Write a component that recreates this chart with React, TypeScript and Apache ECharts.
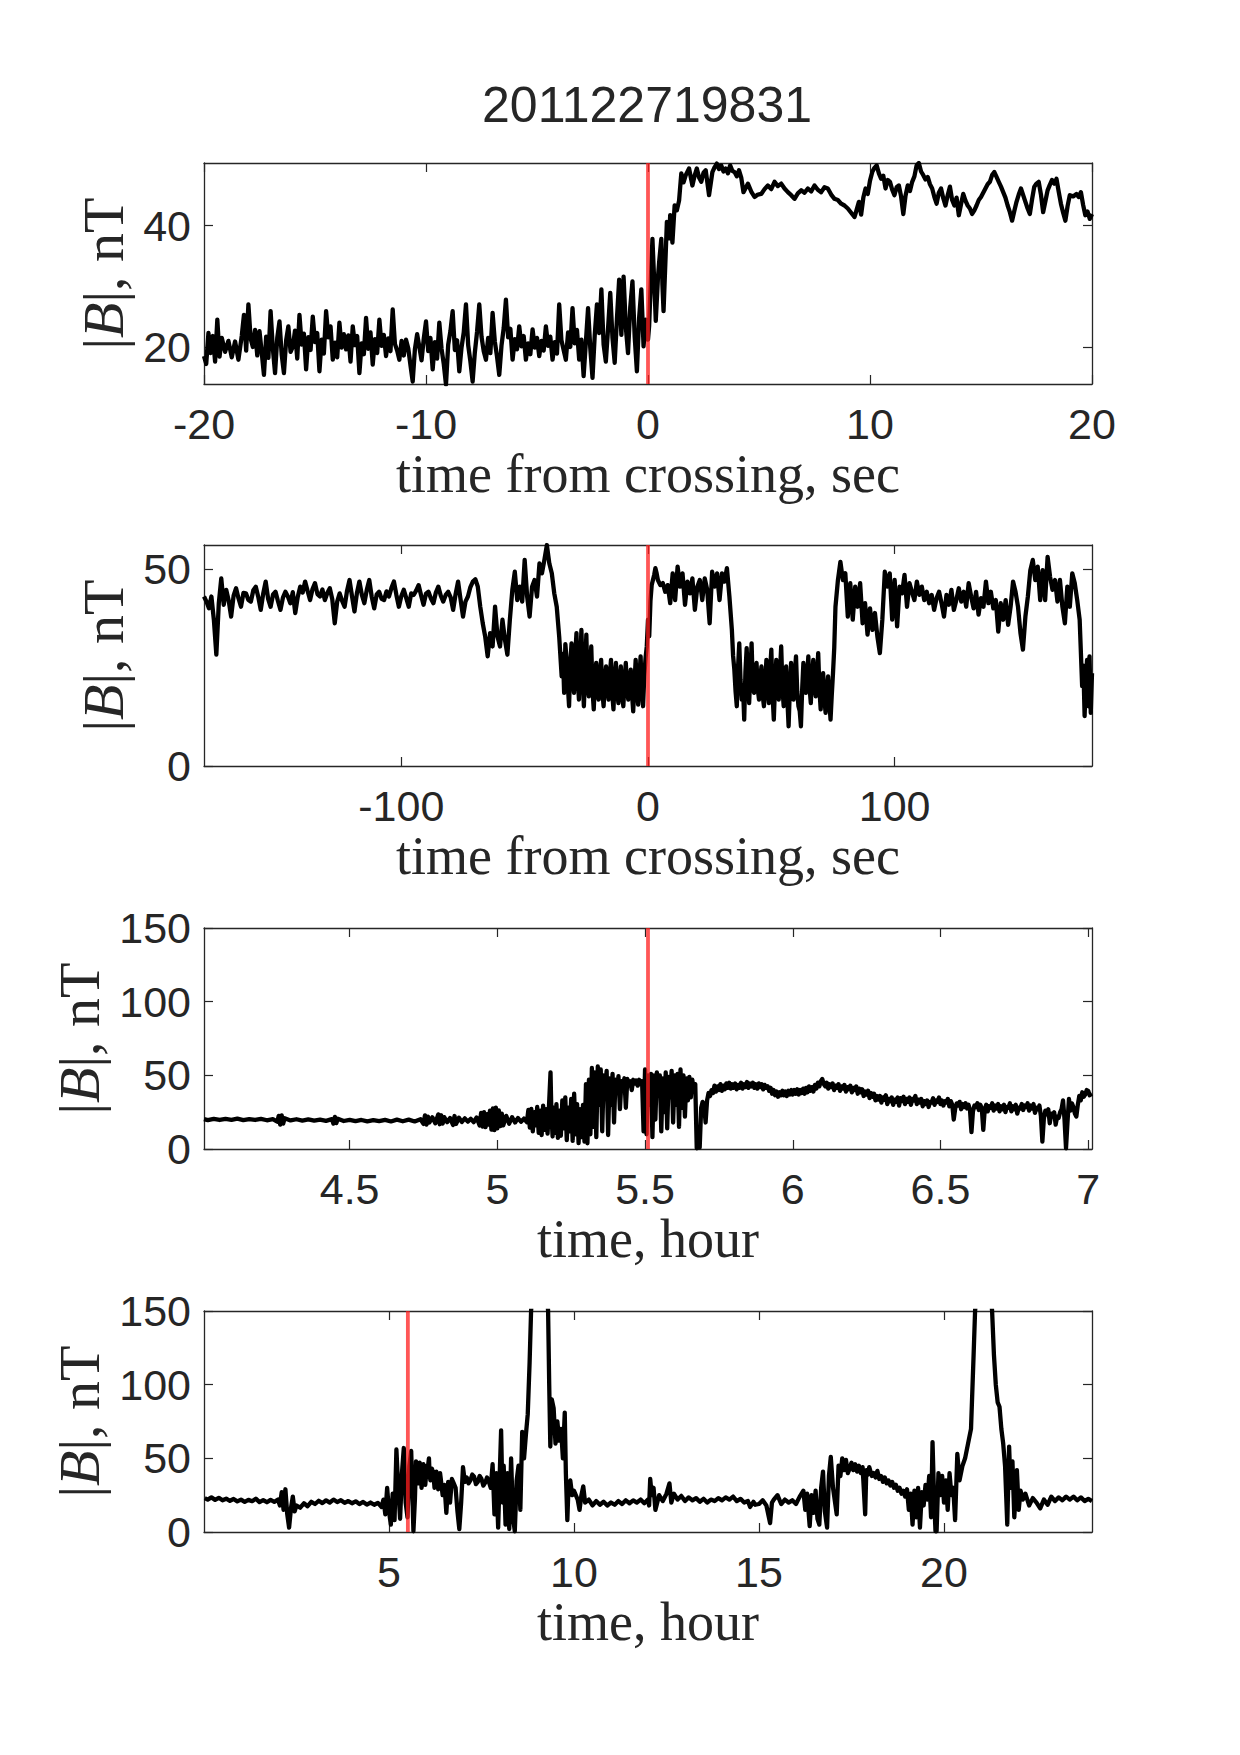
import React, { useEffect, useRef } from "react";
import * as echarts from "echarts";

// ---------- data (time, |B|) ----------
const TITLE = "201122719831";
const CROSSING_SEC = 0;
const CROSSING_HOUR = 5.51;

// panel 1: -20..20 s
const p1Data: number[][] = [
  [-20.0,18.5],[-19.9,17.2],[-19.8,22.3],[-19.7,19.0],[-19.6,21.8],[-19.5,17.6],[-19.4,24.5],[-19.3,18.4],[-19.2,21.5],[-19.05,19.2],
  [-18.9,21.0],[-18.75,18.3],[-18.6,20.9],[-18.45,17.9],[-18.3,21.8],[-18.2,25.3],[-18.1,19.4],[-18.0,27.0],[-17.9,21.4],[-17.8,20.0],
  [-17.7,22.8],[-17.6,18.6],[-17.5,22.6],[-17.4,19.1],[-17.3,15.4],[-17.2,21.7],[-17.1,18.2],[-17.0,25.9],[-16.9,19.8],[-16.8,15.7],
  [-16.7,21.5],[-16.6,24.2],[-16.5,18.7],[-16.4,15.7],[-16.3,21.1],[-16.2,23.4],[-16.1,19.2],[-16.0,20.0],[-15.9,22.7],[-15.8,18.1],
  [-15.7,25.3],[-15.6,20.4],[-15.5,22.2],[-15.4,16.3],[-15.3,21.6],[-15.2,19.5],[-15.1,25.0],[-15.0,20.8],[-14.9,22.3],[-14.8,16.0],
  [-14.7,21.2],[-14.6,18.9],[-14.5,25.9],[-14.4,21.6],[-14.3,23.4],[-14.2,17.9],[-14.1,20.7],[-14.0,18.3],[-13.9,24.0],[-13.8,19.9],
  [-13.7,22.1],[-13.6,19.6],[-13.5,21.9],[-13.4,17.6],[-13.3,23.4],[-13.2,20.3],[-13.1,21.8],[-13.0,15.7],[-12.9,20.6],[-12.8,18.8],
  [-12.7,24.8],[-12.6,19.7],[-12.5,22.4],[-12.4,17.1],[-12.3,21.3],[-12.2,19.0],[-12.1,24.5],[-12.0,20.2],[-11.9,22.0],[-11.8,18.5],
  [-11.7,21.4],[-11.6,19.3],[-11.5,26.2],[-11.4,20.5],[-11.3,19.4],[-11.2,17.9],[-11.1,21.0],[-11.0,18.6],[-10.9,21.2],[-10.8,19.8],
  [-10.7,17.0],[-10.6,14.3],[-10.5,19.6],[-10.4,22.1],[-10.3,20.0],[-10.2,17.8],[-10.1,21.4],[-10.0,24.2],[-9.9,19.3],[-9.8,21.5],
  [-9.7,16.3],[-9.6,20.8],[-9.5,18.1],[-9.4,24.0],[-9.3,19.7],[-9.2,17.2],[-9.1,13.8],[-9.0,20.4],[-8.9,22.6],[-8.8,25.9],
  [-8.7,19.5],[-8.6,21.1],[-8.5,16.0],[-8.4,19.9],[-8.3,22.4],[-8.2,27.0],[-8.1,20.3],[-8.0,17.6],[-7.9,14.3],[-7.8,19.1],
  [-7.7,22.5],[-7.6,27.0],[-7.5,21.7],[-7.4,19.3],[-7.3,17.9],[-7.2,21.5],[-7.1,19.0],[-7.0,25.6],[-6.9,20.9],[-6.8,18.4],
  [-6.7,15.4],[-6.6,20.2],[-6.5,23.1],[-6.4,27.8],[-6.3,21.6],[-6.2,23.0],[-6.1,17.9],[-6.0,21.3],[-5.9,19.6],[-5.8,23.4],
  [-5.7,20.1],[-5.6,21.8],[-5.5,17.9],[-5.4,20.6],[-5.3,18.8],[-5.2,22.9],[-5.1,19.9],[-5.0,21.5],[-4.9,18.5],[-4.8,21.0],
  [-4.7,19.4],[-4.6,23.4],[-4.5,20.2],[-4.4,21.7],[-4.3,17.9],[-4.2,20.8],[-4.1,18.9],[-4.0,27.0],[-3.9,21.1],[-3.8,19.5],
  [-3.7,17.9],[-3.6,22.4],[-3.5,20.0],[-3.4,26.4],[-3.3,20.6],[-3.2,22.8],[-3.1,17.9],[-3.0,21.2],[-2.9,15.2],[-2.8,20.7],
  [-2.7,26.4],[-2.6,19.8],[-2.5,14.9],[-2.4,21.9],[-2.3,27.0],[-2.2,22.3],[-2.1,29.5],[-2.0,20.4],[-1.9,17.6],[-1.8,23.0],
  [-1.7,28.9],[-1.6,21.5],[-1.5,17.4],[-1.4,24.6],[-1.3,31.1],[-1.2,22.0],[-1.1,31.6],[-1.0,23.3],[-0.9,19.0],[-0.8,26.5],
  [-0.7,30.8],[-0.6,21.7],[-0.5,16.0],[-0.4,24.8],[-0.3,29.5],[-0.2,20.1],[-0.1,24.5],[0.0,21.2],
  [0.05,23.4],[0.15,33.1],[0.2,37.8],[0.3,29.0],[0.35,24.3],[0.45,31.5],[0.5,33.9],[0.6,37.8],[0.65,30.2],[0.7,25.9],
  [0.8,35.6],[0.85,40.6],[0.95,37.9],[1.0,41.7],[1.1,37.2],[1.2,43.3],[1.3,42.5],[1.4,44.1],[1.5,48.6],[1.6,47.1],
  [1.7,48.3],[1.85,49.4],[2.0,46.6],[2.1,48.2],[2.2,49.4],[2.3,47.9],[2.4,47.2],[2.5,48.7],[2.6,49.1],[2.75,45.0],
  [2.9,48.8],[3.0,49.6],[3.1,50.2],[3.2,49.3],[3.3,49.9],[3.4,48.9],[3.5,49.4],[3.6,48.6],[3.7,49.9],[3.8,49.0],
  [3.9,48.8],[4.0,48.1],[4.1,49.1],[4.2,47.9],[4.3,45.5],[4.4,46.2],[4.5,46.9],[4.65,45.6],[4.8,44.7],[4.95,45.1],
  [5.1,45.2],[5.25,46.0],[5.4,46.6],[5.55,46.0],[5.7,47.2],[5.85,46.5],[6.0,46.9],[6.15,46.1],[6.3,45.5],[6.45,45.0],
  [6.6,44.4],[6.75,45.3],[6.9,45.8],[7.05,45.4],[7.2,46.1],[7.35,45.6],[7.5,46.6],[7.65,45.9],[7.8,45.5],[7.95,46.3],
  [8.1,46.1],[8.25,45.1],[8.4,44.4],[8.55,44.2],[8.7,43.6],[8.85,43.3],[9.0,42.8],[9.15,42.1],[9.3,41.4],[9.4,42.6],
  [9.5,43.9],[9.6,41.8],[9.7,44.6],[9.8,46.1],[9.9,45.2],[10.0,47.4],[10.1,48.8],[10.2,49.5],[10.3,49.9],[10.4,48.6],
  [10.5,47.7],[10.6,48.2],[10.7,46.1],[10.8,47.5],[10.9,47.2],[11.0,45.9],[11.1,45.0],[11.2,46.3],[11.3,46.6],[11.4,44.8],
  [11.5,41.9],[11.6,44.9],[11.7,46.6],[11.8,45.7],[11.9,47.2],[12.0,48.1],[12.1,49.9],[12.2,50.3],[12.3,48.9],[12.4,48.3],
  [12.5,47.6],[12.6,48.0],[12.7,46.8],[12.8,46.1],[12.9,44.7],[13.0,43.6],[13.1,45.4],[13.2,46.1],[13.3,44.5],[13.4,43.3],
  [13.5,45.0],[13.6,46.4],[13.7,44.2],[13.8,43.3],[13.9,44.6],[14.0,41.7],[14.1,43.5],[14.2,45.2],[14.3,44.1],[14.4,43.3],
  [14.5,42.8],[14.6,41.9],[14.7,42.5],[14.8,43.3],[14.9,44.2],[15.0,44.7],[15.1,45.4],[15.2,46.1],[15.3,46.8],[15.4,47.2],
  [15.5,48.3],[15.6,48.8],[15.7,48.0],[15.8,47.2],[15.9,46.4],[16.0,45.5],[16.1,44.6],[16.2,43.3],[16.3,42.2],[16.4,40.8],
  [16.5,42.4],[16.6,43.9],[16.7,45.1],[16.8,46.1],[16.9,45.0],[17.0,43.9],[17.1,42.8],[17.2,41.9],[17.3,44.3],[17.4,46.4],
  [17.5,46.9],[17.6,47.2],[17.7,45.1],[17.8,42.2],[17.9,44.0],[18.0,45.8],[18.1,46.7],[18.2,47.5],[18.3,46.9],[18.4,47.7],
  [18.5,45.6],[18.6,43.6],[18.7,42.1],[18.8,40.8],[18.9,43.2],[19.0,45.0],[19.15,44.8],[19.3,45.2],[19.4,44.7],[19.5,45.5],
  [19.6,43.4],[19.7,41.7],[19.8,42.3],[19.9,41.1],[20.0,41.9]
];

// panel 2: -180..180 s
const p2Data: number[][] = [
  [-180,43.1],[-179,41.8],[-178,40.1],[-177,43.1],[-176,37.2],[-175,28.3],[-174,41.4],[-173,47.7],[-172,41.0],[-171,44.8],
  [-170,42.1],[-169,38.0],[-168,43.3],[-167,45.2],[-166,42.6],[-165,40.5],[-164,44.0],[-163,43.9],[-162,42.2],[-161,41.8],
  [-160,44.7],[-159,45.6],[-158,43.0],[-157,39.7],[-156,43.8],[-155,46.9],[-154,42.5],[-153,40.5],[-152,43.6],[-151,44.3],
  [-150,41.9],[-149,39.7],[-148,42.8],[-147,44.3],[-146,43.1],[-145,41.4],[-144,44.2],[-143,38.9],[-142,43.0],[-141,45.6],
  [-140,44.1],[-139,46.9],[-138,44.5],[-137,42.2],[-136,45.0],[-135,46.5],[-134,43.7],[-133,43.1],[-132,44.9],[-131,42.2],
  [-130,44.0],[-129,45.2],[-128,42.4],[-127,36.3],[-126,41.8],[-125,43.9],[-124,42.0],[-123,40.5],[-122,44.6],[-121,47.3],
  [-120,43.2],[-119,39.3],[-118,44.0],[-117,46.9],[-116,43.5],[-115,41.4],[-114,44.8],[-113,47.3],[-112,43.0],[-111,40.1],
  [-110,43.6],[-109,44.3],[-108,42.5],[-107,42.2],[-106,44.4],[-105,43.1],[-104,45.3],[-103,46.9],[-102,43.5],[-101,40.5],
  [-100,43.2],[-99,44.8],[-98,42.7],[-97,40.5],[-96,43.9],[-95,43.5],[-94,44.6],[-93,46.0],[-92,43.4],[-91,41.0],
  [-90,43.8],[-89,44.3],[-88,42.6],[-87,41.4],[-86,44.1],[-85,45.6],[-84,43.3],[-83,41.8],[-82,43.5],[-81,44.3],
  [-80,42.9],[-79,39.7],[-78,43.7],[-77,46.9],[-76,42.4],[-75,38.0],[-74,41.8],[-73,43.1],[-72,45.5],[-71,46.9],
  [-70,47.5],[-69,45.6],[-68,40.5],[-67,36.3],[-66,32.9],[-65,27.9],[-64,33.8],[-63,30.4],[-62,40.5],[-61,32.9],
  [-60,30.4],[-59,37.2],[-58,32.1],[-57,28.3],[-56,37.2],[-55,44.8],[-54,49.4],[-53,42.2],[-52,45.6],[-51,41.8],
  [-50,52.4],[-49,43.1],[-48,38.0],[-47,45.6],[-46,47.3],[-45,43.1],[-44,51.5],[-43,49.0],[-42,52.4],[-41,56.2],
  [-40,51.5],[-39,49.0],[-38,43.9],[-37,40.5],[-36,32.9],[-35,22.8],[-34.5,28.5],[-34,18.6],[-33.5,31.0],[-33,27.0],
  [-32.5,20.5],[-32,15.2],[-31.5,26.0],[-31,31.2],[-30.5,22.0],[-30,18.6],[-29.5,28.0],[-29,33.8],[-28.5,22.5],[-28,16.9],
  [-27.5,25.5],[-27,34.6],[-26.5,24.0],[-26,15.2],[-25.5,23.5],[-25,33.4],[-24.5,21.0],[-24,17.7],[-23.5,25.0],[-23,30.4],
  [-22.5,19.5],[-22,14.4],[-21.5,22.0],[-21,26.2],[-20.5,18.0],[-20,16.9],[-19.5,24.0],[-19,27.0],[-18.5,19.0],[-18,15.2],
  [-17.5,21.5],[-17,25.3],[-16.5,19.8],[-16,16.9],[-15.5,23.0],[-15,27.0],[-14.5,18.5],[-14,14.4],[-13.5,22.5],[-13,26.2],
  [-12.5,19.0],[-12,16.0],[-11.5,22.0],[-11,25.3],[-10.5,18.0],[-10,15.2],[-9.5,21.5],[-9,26.2],[-8.5,20.0],[-8,16.9],
  [-7.5,22.0],[-7,24.5],[-6.5,18.5],[-6,13.9],[-5.5,21.0],[-5,27.0],[-4.5,19.5],[-4,15.6],[-3.5,22.5],[-3,27.9],
  [-2.5,19.0],[-2,15.2],[-1.5,23.0],[-1,27.4],[-0.5,30.4],[0,37.2],[0.5,33.0],[1,42.0],[1.5,46.0],[2,47.3],
  [2.5,48.6],[3,50.3],[3.5,49.0],[4,47.3],[5,46.0],[6,46.5],[7,44.3],[8,46.0],[9,41.4],[10,49.0],
  [11,42.2],[12,50.7],[13,45.6],[14,49.0],[15,41.0],[16,46.9],[17,43.9],[18,47.7],[19,39.7],[20,45.6],
  [21,47.3],[22,42.2],[23,47.7],[24,44.8],[25,36.3],[26,49.4],[27,45.6],[28,49.0],[29,42.2],[30,49.0],
  [31,46.9],[32,50.3],[33,43.1],[34,34.6],[34.5,28.0],[35,24.5],[35.5,19.0],[36,15.2],[36.5,25.0],[37,31.2],
  [37.5,22.0],[38,16.9],[38.5,20.5],[39,11.8],[39.5,24.0],[40,30.0],[40.5,21.5],[41,16.0],[41.5,23.5],[42,31.2],
  [42.5,20.0],[43,18.6],[43.5,24.0],[44,26.2],[44.5,19.5],[45,16.9],[45.5,22.5],[46,25.3],[46.5,18.0],[47,15.2],
  [47.5,21.0],[48,27.0],[48.5,19.5],[49,16.0],[49.5,24.5],[50,29.6],[50.5,18.0],[51,11.8],[51.5,20.5],[52,27.0],
  [52.5,21.0],[53,16.9],[53.5,24.0],[54,30.4],[54.5,20.0],[55,15.2],[55.5,22.0],[56,25.3],[56.5,17.0],[57,10.1],
  [57.5,19.5],[58,26.2],[58.5,20.5],[59,16.9],[59.5,23.5],[60,27.9],[60.5,19.0],[61,15.2],[61.5,14.0],[62,10.1],
  [62.5,19.5],[63,26.2],[63.5,21.5],[64,18.6],[64.5,23.0],[65,27.9],[65.5,20.0],[66,16.0],[66.5,22.5],[67,27.0],
  [67.5,21.0],[68,17.7],[68.5,23.0],[69,28.7],[69.5,19.5],[70,14.4],[70.5,20.0],[71,23.6],[71.5,17.0],[72,13.5],
  [72.5,19.0],[73,22.8],[73.5,16.5],[74,11.8],[74.5,18.0],[75,23.6],[75.5,30.0],[76,40.5],[77,47.3],[78,51.9],
  [79,47.3],[80,49.0],[81,38.0],[82,46.5],[83,37.2],[84,45.6],[85,40.5],[86,46.5],[87,36.3],[88,41.4],
  [89,33.4],[90,40.1],[91,34.6],[92,38.9],[93,32.9],[94,28.7],[95,37.2],[96,49.4],[97,45.6],[98,49.0],
  [99,37.2],[100,47.3],[101,35.5],[102,45.6],[103,43.9],[104,48.6],[105,40.5],[106,46.5],[107,44.3],[108,42.2],
  [109,46.9],[110,43.5],[111,45.6],[112,42.2],[113,44.3],[114,41.4],[115,43.5],[116,39.7],[117,42.7],[118,44.3],
  [119,41.4],[120,38.0],[121,43.5],[122,41.0],[123,44.8],[124,39.7],[125,42.2],[126,45.2],[127,41.8],[128,44.3],
  [129,40.5],[130,46.5],[131,43.1],[132,40.1],[133,44.3],[134,38.5],[135,42.7],[136,40.5],[137,46.9],[138,41.4],
  [139,44.3],[140,40.1],[141,42.2],[142,34.2],[143,41.4],[144,37.2],[145,42.2],[146,35.9],[147,40.5],[148,46.9],
  [149,44.3],[150,40.5],[151,33.8],[152,29.6],[153,38.0],[154,43.1],[155,49.8],[156,52.4],[157,47.3],[158,50.7],
  [159,42.2],[160,49.8],[161,42.2],[162,53.2],[163,48.1],[164,44.8],[165,47.3],[166,41.8],[167,47.3],[168,40.5],
  [169,36.3],[170,45.6],[171,40.5],[172,49.0],[173,46.5],[174,42.2],[175,37.2],[176,20.3],[176.5,25.5],[177,12.7],
  [177.5,22.0],[178,27.0],[178.5,15.2],[179,27.9],[179.5,13.5],[180,23.6]
];

// panel 3: 4.0..7.0 hour
const p3Data: number[][] = [
  [4.007,20.3],[4.02,19.6],[4.04,20.5],[4.06,19.7],[4.08,20.4],[4.10,19.8],[4.12,20.6],[4.14,19.6],[4.16,20.3],[4.18,19.7],
  [4.20,20.4],[4.22,19.5],[4.24,20.2],[4.255,18.5],[4.26,22.5],[4.265,16.5],[4.27,22.8],[4.275,17.2],[4.28,20.9],[4.30,19.4],
  [4.32,20.2],[4.34,19.3],[4.36,20.1],[4.38,19.2],[4.40,20.0],[4.42,19.1],[4.44,20.3],[4.445,17.2],[4.45,21.8],[4.455,17.6],
  [4.46,20.5],[4.48,19.0],[4.50,19.8],[4.52,18.9],[4.54,19.7],[4.56,18.8],[4.58,19.6],[4.60,18.9],[4.62,19.8],[4.64,18.7],
  [4.66,19.9],[4.68,18.8],[4.70,19.9],[4.72,18.7],[4.74,20.2],[4.75,17.0],[4.755,22.8],[4.76,16.5],[4.765,22.0],[4.77,18.0],
  [4.78,21.5],[4.79,17.5],[4.80,23.5],[4.805,16.8],[4.81,22.9],[4.815,17.3],[4.82,21.6],[4.83,18.2],[4.84,21.0],[4.85,16.3],
  [4.855,22.4],[4.86,17.0],[4.87,21.2],[4.88,18.4],[4.89,20.8],[4.90,18.6],[4.91,20.5],[4.92,18.2],[4.93,21.4],[4.94,16.0],
  [4.945,24.5],[4.95,15.2],[4.955,25.0],[4.96,14.8],[4.965,23.6],[4.97,16.5],[4.975,26.0],[4.98,13.2],[4.985,27.5],[4.99,12.8],
  [4.995,28.0],[5.0,14.0],[5.005,26.2],[5.01,15.5],[5.015,24.0],[5.02,16.0],[5.03,22.5],[5.04,17.2],[5.05,21.6],[5.06,18.0],
  [5.07,21.0],[5.08,18.5],[5.09,20.6],[5.10,18.2],[5.105,26.5],[5.11,14.5],[5.115,27.2],[5.12,12.0],[5.125,25.0],[5.13,16.0],
  [5.135,28.5],[5.14,11.0],[5.145,26.0],[5.15,9.5],[5.155,29.5],[5.16,13.0],[5.165,27.0],[5.17,10.5],[5.175,30.0],[5.18,52.0],
  [5.183,24.0],[5.187,8.5],[5.19,28.0],[5.195,11.0],[5.20,30.5],[5.205,7.5],[5.21,26.0],[5.215,9.0],[5.22,33.0],[5.225,14.0],
  [5.23,35.0],[5.235,6.0],[5.24,28.0],[5.245,12.0],[5.25,34.0],[5.255,5.5],[5.26,37.5],[5.265,10.0],[5.27,30.5],[5.275,4.0],
  [5.28,27.0],[5.285,8.0],[5.29,30.0],[5.295,5.0],[5.30,44.0],[5.305,3.9],[5.31,47.0],[5.315,10.0],[5.32,55.0],[5.325,15.0],
  [5.33,52.0],[5.335,8.0],[5.34,56.0],[5.345,30.0],[5.35,54.0],[5.355,12.0],[5.36,50.0],[5.365,40.0],[5.37,53.0],[5.375,9.5],
  [5.38,48.0],[5.385,30.0],[5.39,51.0],[5.395,18.0],[5.40,47.0],[5.405,38.0],[5.41,49.5],[5.415,27.0],[5.42,46.0],[5.425,42.0],
  [5.43,48.0],[5.435,28.0],[5.44,47.5],[5.445,43.0],[5.45,46.0],[5.455,40.0],[5.46,47.0],[5.465,44.5],[5.47,46.5],[5.475,43.0],
  [5.48,47.0],[5.485,44.0],[5.49,46.0],[5.495,12.0],[5.50,54.0],[5.505,10.0],[5.51,50.0],[5.515,30.0],[5.52,51.0],[5.525,8.0],
  [5.53,50.0],[5.535,20.0],[5.54,52.0],[5.545,38.0],[5.55,50.0],[5.555,12.0],[5.56,48.0],[5.565,25.0],[5.57,52.0],[5.575,14.0],
  [5.58,49.0],[5.585,35.0],[5.59,53.0],[5.595,18.0],[5.60,50.0],[5.605,30.0],[5.61,51.0],[5.615,15.0],[5.62,54.0],[5.625,28.0],
  [5.63,50.0],[5.635,22.0],[5.64,48.0],[5.645,33.0],[5.65,49.0],[5.655,35.0],[5.66,47.0],[5.665,40.0],[5.67,44.0],[5.675,0.5],
  [5.68,10.0],[5.685,1.0],[5.69,28.0],[5.695,32.0],[5.70,30.0],[5.705,18.0],[5.71,33.0],[5.715,38.0],[5.72,36.0],[5.725,40.0],
  [5.73,38.0],[5.735,43.0],[5.74,39.0],[5.745,42.5],[5.75,40.0],[5.755,44.0],[5.76,39.5],[5.765,43.0],[5.77,40.5],[5.775,44.5],
  [5.78,41.5],[5.785,45.0],[5.79,41.0],[5.795,44.0],[5.80,41.5],[5.805,44.5],[5.81,40.5],[5.815,43.5],[5.82,41.5],[5.825,45.0],
  [5.83,41.0],[5.835,44.0],[5.84,42.0],[5.845,45.5],[5.85,41.5],[5.855,44.5],[5.86,42.5],[5.865,45.0],[5.87,41.5],[5.875,44.0],
  [5.88,41.0],[5.885,44.5],[5.89,42.0],[5.895,44.0],[5.90,40.5],[5.905,43.5],[5.91,41.5],[5.915,42.5],[5.92,39.5],[5.925,41.5],
  [5.93,37.5],[5.935,40.0],[5.94,36.5],[5.945,39.0],[5.95,35.5],[5.955,38.5],[5.96,36.5],[5.965,39.5],[5.97,36.5],[5.975,39.0],
  [5.98,36.0],[5.985,39.5],[5.99,37.0],[5.995,40.0],[6.00,37.0],[6.005,40.0],[6.01,37.5],[6.015,40.5],[6.02,37.0],[6.025,40.0],
  [6.03,38.0],[6.035,41.0],[6.04,37.5],[6.045,41.5],[6.05,38.5],[6.055,42.5],[6.06,39.5],[6.065,42.0],[6.07,39.0],[6.075,43.5],
  [6.08,41.0],[6.085,45.0],[6.09,42.5],[6.095,46.0],[6.10,47.5],[6.105,44.0],[6.11,42.5],[6.115,45.0],[6.12,41.0],[6.125,44.0],
  [6.13,42.0],[6.135,44.5],[6.14,40.0],[6.145,43.0],[6.15,41.5],[6.155,44.0],[6.16,39.5],[6.165,42.5],[6.17,41.0],[6.175,43.5],
  [6.18,39.0],[6.185,42.0],[6.19,40.5],[6.195,43.0],[6.20,38.5],[6.205,41.5],[6.21,40.0],[6.215,42.5],[6.22,37.5],[6.225,41.0],
  [6.23,38.5],[6.235,40.5],[6.24,36.0],[6.245,39.0],[6.25,37.0],[6.255,39.5],[6.26,34.5],[6.265,38.0],[6.27,35.5],[6.275,37.5],
  [6.28,33.0],[6.285,36.0],[6.29,33.5],[6.295,36.0],[6.30,31.5],[6.305,35.0],[6.31,33.5],[6.315,36.5],[6.32,30.5],[6.325,34.0],
  [6.33,32.5],[6.335,35.0],[6.34,30.0],[6.345,33.5],[6.35,32.0],[6.355,35.0],[6.36,29.5],[6.365,34.5],[6.37,32.5],[6.375,35.5],
  [6.38,30.5],[6.385,34.0],[6.39,32.0],[6.395,35.0],[6.40,30.0],[6.405,34.0],[6.41,33.0],[6.415,36.0],[6.42,30.5],[6.425,33.5],
  [6.43,31.5],[6.435,34.0],[6.44,29.0],[6.445,32.5],[6.45,30.5],[6.455,33.0],[6.46,28.5],[6.465,32.0],[6.47,31.5],[6.475,34.5],
  [6.48,30.0],[6.485,33.0],[6.49,32.0],[6.495,35.0],[6.50,30.5],[6.505,33.0],[6.51,29.5],[6.515,32.5],[6.52,31.5],[6.525,34.0],
  [6.53,29.0],[6.535,32.5],[6.54,30.0],[6.545,20.0],[6.55,27.5],[6.555,31.0],[6.56,29.5],[6.565,32.0],[6.57,27.0],[6.575,30.5],
  [6.58,28.5],[6.585,31.0],[6.59,27.5],[6.595,30.0],[6.60,26.5],[6.605,11.5],[6.61,25.5],[6.615,29.5],[6.62,28.5],[6.625,31.0],
  [6.63,26.5],[6.635,30.0],[6.64,27.5],[6.645,13.0],[6.65,27.0],[6.655,30.0],[6.66,25.5],[6.665,29.0],[6.67,28.0],[6.675,31.0],
  [6.68,26.0],[6.685,29.5],[6.69,27.5],[6.695,30.5],[6.70,25.5],[6.705,29.0],[6.71,27.0],[6.715,30.0],[6.72,25.0],[6.725,28.5],
  [6.73,28.0],[6.735,31.0],[6.74,25.5],[6.745,29.0],[6.75,27.0],[6.755,30.0],[6.76,24.0],[6.765,28.0],[6.77,27.5],[6.775,30.5],
  [6.78,26.5],[6.785,29.5],[6.79,28.5],[6.795,31.0],[6.80,26.0],[6.805,29.5],[6.81,27.5],[6.815,30.5],[6.82,24.5],[6.825,28.0],
  [6.83,27.0],[6.835,29.5],[6.84,22.5],[6.845,5.0],[6.85,20.5],[6.855,26.0],[6.86,23.5],[6.865,27.0],[6.87,17.5],[6.875,24.0],
  [6.88,22.0],[6.885,25.0],[6.89,16.5],[6.895,22.0],[6.90,21.0],[6.905,25.0],[6.91,27.0],[6.915,33.0],[6.92,20.0],[6.925,0.5],
  [6.93,18.0],[6.935,34.0],[6.94,26.0],[6.945,31.0],[6.95,28.5],[6.955,24.0],[6.96,22.0],[6.965,30.0],[6.97,36.0],[6.975,33.0],
  [6.98,38.5],[6.985,35.5],[6.99,37.0],[6.995,40.0],[7.00,39.5],[7.005,36.5],[7.013,37.5]
];

// panel 4: 0..24 hour
const p4Data: number[][] = [
  [0.02,23.0],[0.1,22.0],[0.2,23.5],[0.3,21.8],[0.4,23.2],[0.5,21.5],[0.6,22.6],[0.7,21.2],[0.8,22.4],[0.9,20.8],
  [1.0,22.0],[1.1,20.5],[1.2,21.8],[1.3,20.9],[1.4,22.6],[1.5,20.3],[1.6,21.6],[1.7,20.2],[1.8,21.8],[1.9,20.5],
  [2.0,22.0],[2.05,18.0],[2.1,27.0],[2.15,15.0],[2.2,29.0],[2.25,12.0],[2.3,3.0],[2.35,16.0],[2.4,24.0],[2.45,14.0],
  [2.5,18.0],[2.6,16.5],[2.7,19.5],[2.8,17.5],[2.9,20.5],[3.0,19.0],[3.1,21.2],[3.2,19.6],[3.3,21.5],[3.4,20.0],
  [3.5,22.0],[3.6,20.3],[3.7,21.6],[3.8,19.8],[3.9,21.0],[4.0,19.5],[4.1,20.8],[4.2,19.0],[4.3,20.4],[4.4,18.6],
  [4.5,20.0],[4.6,18.5],[4.7,19.8],[4.8,17.0],[4.85,22.0],[4.9,12.0],[4.95,30.0],[5.0,14.0],[5.05,5.0],[5.1,26.0],
  [5.15,8.0],[5.2,56.0],[5.25,30.0],[5.3,9.0],[5.35,40.0],[5.4,57.0],[5.45,20.0],[5.5,10.0],[5.55,45.0],[5.6,55.0],
  [5.66,0.5],[5.7,22.0],[5.73,48.0],[5.76,40.0],[5.8,33.0],[5.83,47.0],[5.85,45.0],[5.88,30.0],[5.9,36.0],[5.93,46.0],
  [5.95,42.0],[5.98,32.0],[6.0,38.0],[6.03,45.0],[6.05,44.0],[6.08,50.0],[6.1,38.0],[6.12,35.0],[6.16,43.0],[6.2,40.0],
  [6.23,30.0],[6.25,34.0],[6.28,41.0],[6.3,38.0],[6.33,29.0],[6.35,33.0],[6.38,40.0],[6.4,36.0],[6.45,25.0],[6.5,32.0],
  [6.55,13.0],[6.6,34.0],[6.65,20.0],[6.7,36.0],[6.75,33.0],[6.8,30.0],[6.85,14.0],[6.9,2.0],[6.95,20.0],[7.0,44.0],
  [7.05,34.0],[7.1,37.0],[7.15,33.0],[7.2,35.0],[7.25,39.0],[7.3,37.5],[7.35,32.5],[7.4,34.0],[7.45,38.0],[7.5,36.0],
  [7.55,31.5],[7.6,33.5],[7.65,37.0],[7.7,34.0],[7.75,30.0],[7.8,46.0],[7.85,12.0],[7.9,40.0],[7.95,3.0],[8.0,45.0],
  [8.03,69.0],[8.07,20.0],[8.1,45.0],[8.15,5.0],[8.2,40.0],[8.25,2.0],[8.3,50.0],[8.35,10.0],[8.4,0.5],[8.45,35.0],
  [8.5,45.0],[8.55,15.0],[8.6,68.0],[8.65,50.0],[8.7,66.0],[8.75,80.0],[8.8,115.0],[8.84,150.0],[8.9,175.0],[9.0,200.0],
  [9.15,195.0],[9.25,170.0],[9.3,150.0],[9.33,100.0],[9.36,58.0],[9.4,90.0],[9.45,84.0],[9.5,60.0],[9.55,75.0],[9.6,62.0],
  [9.65,70.0],[9.7,50.0],[9.75,81.0],[9.78,40.0],[9.82,8.0],[9.85,30.0],[9.9,35.0],[9.95,25.0],[10.0,28.0],[10.1,22.0],
  [10.15,15.0],[10.2,25.0],[10.25,31.0],[10.3,20.0],[10.4,22.0],[10.5,18.0],[10.6,21.0],[10.7,18.5],[10.8,20.5],[10.9,18.0],
  [11.0,20.0],[11.1,18.5],[11.2,21.0],[11.3,19.0],[11.4,21.5],[11.5,19.5],[11.6,21.5],[11.7,20.0],[11.8,22.0],[11.9,19.5],
  [12.0,22.0],[12.03,18.0],[12.06,36.0],[12.1,25.0],[12.15,30.0],[12.2,15.0],[12.3,25.0],[12.4,21.0],[12.5,26.0],[12.58,33.0],
  [12.63,20.0],[12.7,26.0],[12.8,22.0],[12.9,24.5],[13.0,21.0],[13.1,23.5],[13.2,21.5],[13.3,23.0],[13.4,20.5],[13.5,22.5],
  [13.6,20.0],[13.7,22.0],[13.8,21.0],[13.9,23.0],[14.0,21.5],[14.1,23.5],[14.2,22.0],[14.3,24.0],[14.4,21.0],[14.5,22.5],
  [14.6,20.0],[14.7,21.0],[14.76,17.0],[14.85,20.5],[14.9,18.5],[15.0,19.0],[15.1,21.5],[15.2,18.0],[15.3,6.0],[15.35,20.0],
  [15.4,22.0],[15.5,25.0],[15.6,19.0],[15.7,22.0],[15.8,20.0],[15.9,21.5],[16.0,19.0],[16.1,24.0],[16.2,28.0],[16.25,15.0],
  [16.3,26.0],[16.37,4.0],[16.42,25.0],[16.48,13.0],[16.53,28.0],[16.58,9.0],[16.63,5.0],[16.68,30.0],[16.73,41.0],[16.78,14.0],
  [16.84,3.0],[16.89,38.0],[16.94,51.0],[17.0,30.0],[17.1,12.0],[17.15,45.0],[17.2,38.0],[17.25,50.0],[17.3,42.0],[17.35,49.0],
  [17.4,40.0],[17.45,43.0],[17.5,47.0],[17.55,42.0],[17.6,46.0],[17.65,41.0],[17.7,45.0],[17.75,40.0],[17.8,44.0],[17.87,12.0],
  [17.9,42.0],[17.95,39.0],[17.98,44.0],[18.05,38.0],[18.1,40.0],[18.15,37.0],[18.2,41.5],[18.25,36.0],[18.3,38.0],[18.35,34.0],
  [18.4,37.0],[18.45,33.0],[18.5,35.0],[18.55,31.5],[18.6,34.0],[18.65,30.0],[18.7,32.0],[18.75,28.0],[18.8,30.0],[18.85,26.0],
  [18.9,28.0],[18.95,24.0],[19.0,29.0],[19.05,15.0],[19.1,26.0],[19.15,5.0],[19.2,28.0],[19.25,10.0],[19.3,30.0],[19.35,3.0],
  [19.4,27.0],[19.45,18.0],[19.5,32.0],[19.55,22.0],[19.6,38.0],[19.65,10.0],[19.69,61.0],[19.73,25.0],[19.77,0.5],[19.8,0.5],
  [19.85,40.0],[19.9,25.0],[19.95,38.0],[20.0,20.0],[20.05,35.0],[20.1,15.0],[20.15,40.0],[20.2,25.0],[20.25,30.0],[20.3,8.0],
  [20.36,53.0],[20.42,35.0],[20.5,45.0],[20.57,50.0],[20.65,60.0],[20.73,70.0],[20.8,120.0],[20.84,150.0],[20.95,185.0],[21.1,200.0],
  [21.2,180.0],[21.3,150.0],[21.35,120.0],[21.4,100.0],[21.45,88.0],[21.5,85.0],[21.55,70.0],[21.6,60.0],[21.65,45.0],[21.71,5.0],
  [21.76,58.0],[21.8,30.0],[21.85,48.0],[21.9,10.0],[21.97,42.0],[22.02,15.0],[22.07,28.0],[22.13,22.0],[22.2,26.0],[22.3,18.0],
  [22.4,23.0],[22.5,20.0],[22.6,16.0],[22.7,22.0],[22.8,18.5],[22.9,24.0],[23.0,21.0],[23.1,23.5],[23.2,21.5],[23.3,24.0],
  [23.4,22.0],[23.5,24.0],[23.6,21.5],[23.7,23.5],[23.8,21.0],[23.9,22.5],[24.0,21.0]
];

// axis ranges and tick labels
const xRanges: number[][] = [[-20, 20], [-180, 180], [4.007, 7.013], [0, 24]];
const yRanges: number[][] = [[13.9, 50.3], [0, 56.2], [0, 150], [0, 150]];
const xTicks: number[][] = [[-20, -10, 0, 10, 20], [-100, 0, 100], [4.5, 5, 5.5, 6, 6.5, 7], [5, 10, 15, 20]];
const yTicks: number[][] = [[20, 40], [0, 50], [0, 50, 100, 150], [0, 50, 100, 150]];
const xNames: string[] = ["time from crossing, sec", "time from crossing, sec", "time, hour", "time, hour"];
const crossings: number[] = [CROSSING_SEC, CROSSING_SEC, CROSSING_HOUR, CROSSING_HOUR];
const panelData = [p1Data, p2Data, p3Data, p4Data];

// layout
const GRID_LEFT = 204;
const GRID_WIDTH = 888;
const GRID_HEIGHT = 221;
const GRID_TOPS = [163, 545, 928, 1311];
const Y_NAME_GAPS = [69, 69, 96, 96];

const AX = "#262626";
const SANS = "'Liberation Sans', Arial, Helvetica, sans-serif";
const SERIF = "'Liberation Serif', 'Times New Roman', serif";

function buildOption() {
  const grid: any[] = [];
  const xAxis: any[] = [];
  const yAxis: any[] = [];
  const series: any[] = [];
  for (let i = 0; i < 4; i++) {
    grid.push({ left: GRID_LEFT, top: GRID_TOPS[i], width: GRID_WIDTH, height: GRID_HEIGHT, containLabel: false });
    const axisLine = { show: true, onZero: false, lineStyle: { color: AX, width: 1.3 } };
    const tickBase = { show: true, inside: true, length: 9, lineStyle: { color: AX, width: 1.2 } };
    // bottom x
    xAxis.push({
      type: "value", gridIndex: i, position: "bottom", min: xRanges[i][0], max: xRanges[i][1],
      axisLine, splitLine: { show: false },
      axisTick: { ...tickBase, customValues: xTicks[i] },
      axisLabel: {
        show: true, customValues: xTicks[i], showMinLabel: true, showMaxLabel: true, hideOverlap: false,
        margin: 18, fontSize: 43, color: AX, fontFamily: SANS,
        formatter: (v: number) => String(v),
      },
      name: xNames[i], nameLocation: "middle", nameGap: 63,
      nameTextStyle: { fontFamily: SERIF, fontSize: 54, color: AX },
    });
    // top x (box + ticks)
    xAxis.push({
      type: "value", gridIndex: i, position: "top", min: xRanges[i][0], max: xRanges[i][1],
      axisLine, splitLine: { show: false },
      axisTick: { ...tickBase, customValues: xTicks[i] },
      axisLabel: { show: false },
    });
    // left y
    yAxis.push({
      type: "value", gridIndex: i, position: "left", min: yRanges[i][0], max: yRanges[i][1],
      axisLine, splitLine: { show: false },
      axisTick: { ...tickBase, customValues: yTicks[i] },
      axisLabel: {
        show: true, customValues: yTicks[i], showMinLabel: true, showMaxLabel: true, hideOverlap: false,
        margin: 13, fontSize: 43, color: AX, fontFamily: SANS,
        formatter: (v: number) => String(v),
      },
      name: "|{b|B}|, nT", nameLocation: "middle", nameGap: Y_NAME_GAPS[i], nameRotate: 90,
      nameTextStyle: {
        fontFamily: SERIF, fontSize: 58, color: AX,
        rich: { b: { fontFamily: SERIF, fontStyle: "italic", fontSize: 58, color: AX } },
      },
    });
    // right y (box + ticks)
    yAxis.push({
      type: "value", gridIndex: i, position: "right", min: yRanges[i][0], max: yRanges[i][1],
      axisLine, splitLine: { show: false },
      axisTick: { ...tickBase, customValues: yTicks[i] },
      axisLabel: { show: false },
    });

    series.push({
      type: "line", xAxisIndex: i * 2, yAxisIndex: i * 2, data: panelData[i],
      showSymbol: false, symbol: "none", clip: true, z: 2,
      lineStyle: { color: "#000000", width: 4.3, join: "round" },
    });
    series.push({
      type: "line", xAxisIndex: i * 2, yAxisIndex: i * 2,
      data: [[crossings[i], yRanges[i][0]], [crossings[i], yRanges[i][1]]],
      showSymbol: false, symbol: "none", clip: true, z: 3,
      lineStyle: { color: "rgba(255,30,30,0.75)", width: 3.8 },
    });
  }
  return {
    animation: false,
    backgroundColor: "#ffffff",
    title: {
      text: TITLE, left: 642, top: 75, textAlign: "center",
      textStyle: { fontSize: 50, fontWeight: "normal", color: AX, fontFamily: SANS },
    },
    grid, xAxis, yAxis, series,
  };
}

export default function App() {
  const ref = useRef<HTMLDivElement>(null);
  useEffect(() => {
    if (!ref.current) return;
    const chart = echarts.init(ref.current, undefined, { renderer: "svg" });
    chart.setOption(buildOption() as any);
    return () => chart.dispose();
  }, []);
  return (
    <div
      ref={ref}
      style={{ position: "absolute", left: 0, top: 0, width: 1240, height: 1755, background: "#ffffff" }}
    />
  );
}
